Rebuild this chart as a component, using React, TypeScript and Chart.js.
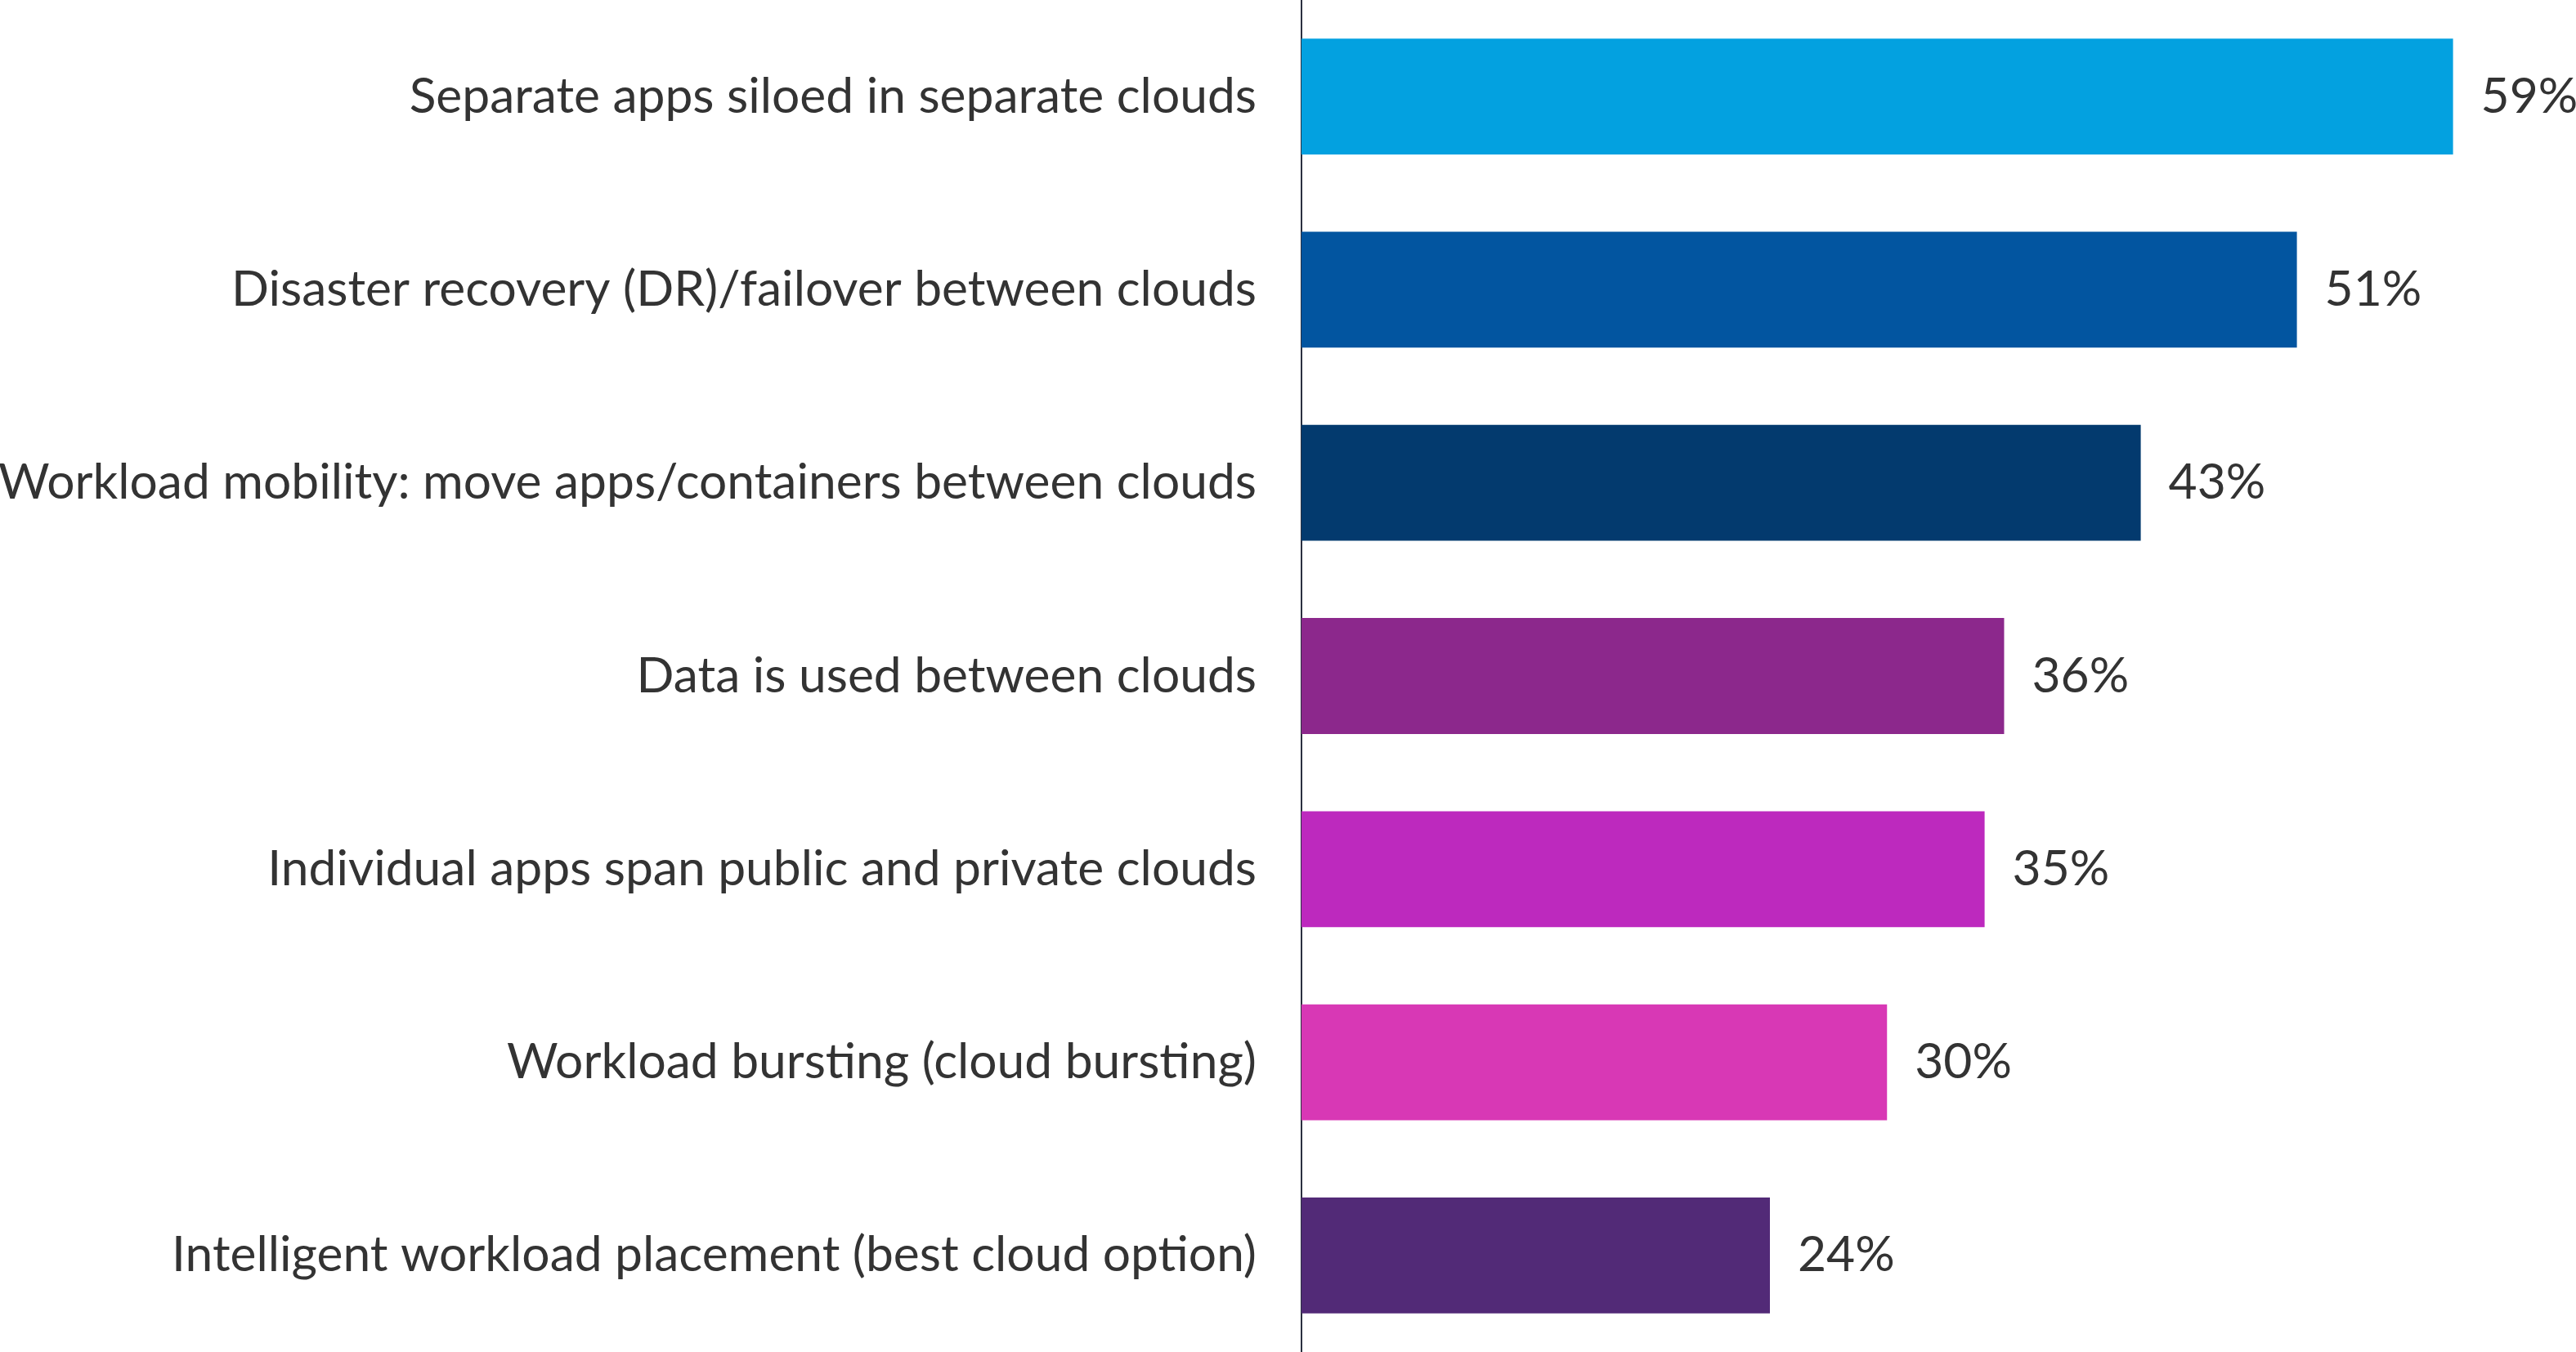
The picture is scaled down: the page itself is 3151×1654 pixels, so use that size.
import React, { useEffect, useRef } from 'react';
import Chart from 'chart.js/auto';

const categories = [
  'Separate apps siloed in separate clouds',
  'Disaster recovery (DR)/failover between clouds',
  'Workload mobility: move apps/containers between clouds',
  'Data is used between clouds',
  'Individual apps span public and private clouds',
  'Workload bursting (cloud bursting)',
  'Intelligent workload placement (best cloud option)',
];
const values = [59, 51, 43, 36, 35, 30, 24];
const barColors = ['#03A1E0', '#0255A0', '#033A6E', '#8C288C', '#BD29BE', '#D838B5', '#522A77'];

const FONT_FAMILY = 'Lato, "Noto Sans", sans-serif';
const FONT_SIZE = 60.5;
const TEXT_COLOR = '#333333';

// draws "59%" etc. just past the end of each bar
const valueLabels = {
  id: 'valueLabels',
  afterDatasetsDraw(chart: any) {
    const { ctx } = chart;
    const meta = chart.getDatasetMeta(0);
    ctx.save();
    ctx.font = `${FONT_SIZE}px ${FONT_FAMILY}`;
    ctx.fillStyle = TEXT_COLOR;
    ctx.textAlign = 'left';
    ctx.textBaseline = 'middle';
    meta.data.forEach((bar: any, i: number) => {
      ctx.fillText(`${values[i]}%`, bar.x + 34, bar.y);
    });
    ctx.restore();
  },
};

const App: React.FC = () => {
  const chartRef = useRef<HTMLCanvasElement>(null);

  useEffect(() => {
    if (!chartRef.current) return;
    const ctx = chartRef.current.getContext('2d');
    if (!ctx) return;

    const chartInstance = new Chart(ctx, {
      type: 'bar',
      data: {
        labels: categories,
        datasets: [
          {
            data: values,
            backgroundColor: barColors,
            borderWidth: 0,
            barPercentage: 0.6,
            categoryPercentage: 1,
          },
        ],
      },
      options: {
        indexAxis: 'y',
        responsive: true,
        maintainAspectRatio: false,
        animation: false,
        layout: { padding: 0 },
        plugins: {
          legend: { display: false },
          tooltip: { enabled: false },
        },
        scales: {
          x: {
            display: false,
            min: 0,
            max: 65.3,
          },
          y: {
            grid: { display: false, drawTicks: false },
            border: { display: true, color: '#2b3040', width: 2 },
            ticks: {
              autoSkip: false,
              color: TEXT_COLOR,
              padding: 55,
              font: { family: FONT_FAMILY, size: FONT_SIZE },
            },
            afterFit(scale: any) {
              scale.width = 1592;
              // labels sit inside their category band, so no extra top/bottom room
              scale.paddingTop = 0;
              scale.paddingBottom = 0;
            },
          },
        },
      },
      plugins: [valueLabels],
    });

    return () => {
      chartInstance.destroy();
    };
  }, []);

  return (
    <div style={{ position: 'fixed', left: 0, top: 0, width: 3151, height: 1654, background: '#ffffff' }}>
      <canvas ref={chartRef}></canvas>
    </div>
  );
};

export default App;
